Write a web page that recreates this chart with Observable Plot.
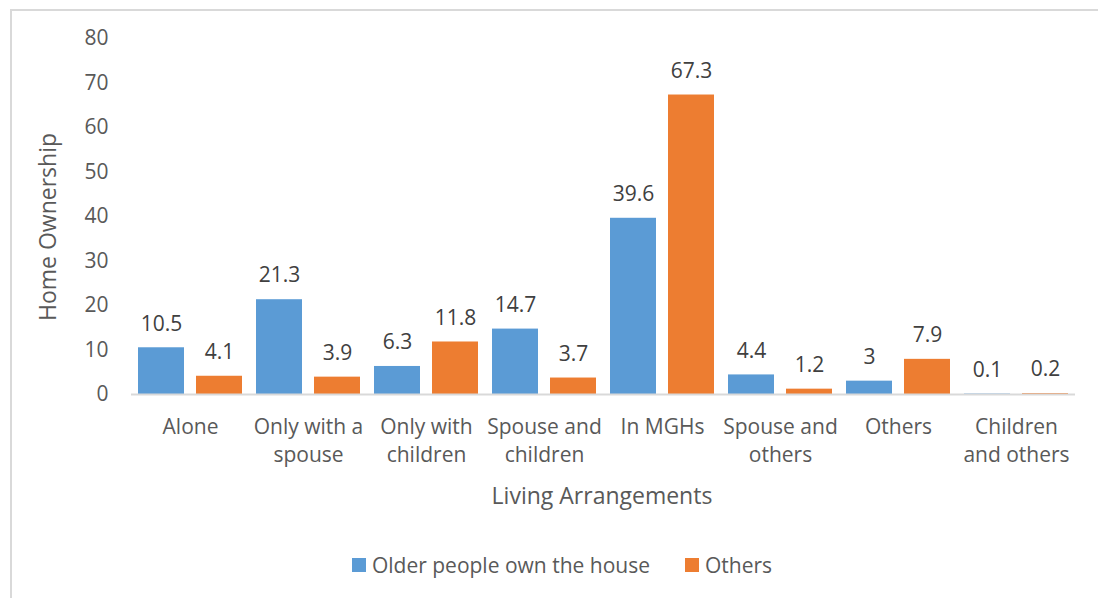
<!DOCTYPE html>
<html>
<head>
<meta charset="utf-8">
<script src="https://cdn.jsdelivr.net/npm/d3@7"></script>
<script src="https://cdn.jsdelivr.net/npm/@observablehq/plot@0.6"></script>
<style>
  html, body { margin: 0; padding: 0; background: #fff; }
  #wrap { position: relative; width: 1098px; height: 598px; overflow: hidden; font-family: "Open Sans", sans-serif; color: #595959; }
  #frame { position: absolute; left: 10px; top: 9px; width: 1200px; height: 700px; border-left: 2px solid #d9d9d9; border-top: 2px solid #d9d9d9; box-sizing: border-box; }
  #chart { position: absolute; left: 0; top: 0; }
  #ytitle { position: absolute; left: 47px; top: 227px; transform: translate(-50%, -50%) rotate(-90deg); font-size: 23px; white-space: nowrap; }
  #xtitle { position: absolute; left: 602px; top: 495px; transform: translate(-50%, -50%); font-size: 23px; white-space: nowrap; }
  #legend { position: absolute; left: 0; width: 1098px; top: 565px; transform: translateY(-50%); display: flex; justify-content: center; gap: 35px; font-size: 21px; padding-left: 26px; box-sizing: border-box; }
  .item { display: flex; align-items: center; gap: 6px; }
  .sw { width: 14px; height: 14px; display: inline-block; }
</style>
</head>
<body>
<div id="wrap">
  <div id="frame"></div>
  <div id="chart"></div>
  <div id="ytitle">Home Ownership</div>
  <div id="xtitle">Living Arrangements</div>
  <div id="legend"></div>
</div>
<script>
const categories = ["Alone", "Only with a spouse", "Only with children", "Spouse and children", "In MGHs", "Spouse and others", "Others", "Children and others"];
const categoryLabels = ["Alone", "Only with a\nspouse", "Only with\nchildren", "Spouse and\nchildren", "In MGHs", "Spouse and\nothers", "Others", "Children\nand others"];
const seriesNames = ["Older people own the house", "Others"];
const ownValues = [10.5, 21.3, 6.3, 14.7, 39.6, 4.4, 3, 0.1];
const otherValues = [4.1, 3.9, 11.8, 3.7, 67.3, 1.2, 7.9, 0.2];
const colors = ["#5B9BD5", "#ED7D31"];
const yTicks = [0, 10, 20, 30, 40, 50, 60, 70, 80];

const data = [];
categories.forEach((c, i) => {
  data.push({category: c, series: seriesNames[0], value: ownValues[i]});
  data.push({category: c, series: seriesNames[1], value: otherValues[i]});
});
const labelOf = new Map(categories.map((c, i) => [c, categoryLabels[i]]));

const chart = Plot.plot({
  width: 1098,
  height: 520,
  marginLeft: 131,
  marginRight: 23,
  marginTop: 38,
  marginBottom: 126,
  style: {fontFamily: "'Open Sans', sans-serif", fontSize: "21px", color: "#595959", background: "transparent"},
  fx: {domain: categories, padding: 0, label: null, axis: null},
  x: {domain: seriesNames, paddingInner: 12 / 58, paddingOuter: 7 / 58, axis: null},
  y: {domain: [0, 80], axis: null},
  color: {domain: seriesNames, range: colors},
  marks: [
    Plot.axisY({ticks: yTicks, tickSize: 0, tickPadding: 23, label: null, fontSize: 21, fill: "#595959"}),
    Plot.axisFx({anchor: "bottom", tickSize: 0, tickPadding: 20, label: null, fontSize: 21, fill: "#595959",
                 lineHeight: 1.33, tickFormat: d => labelOf.get(d)}),
    Plot.barY(data, {fx: "category", x: "series", y: "value", fill: "series"}),
    Plot.ruleY([0], {stroke: "#d9d9d9", strokeWidth: 2}),
    Plot.text(data, {fx: "category", x: "series", y: "value", text: d => String(d.value), dy: -24,
                     lineAnchor: "middle", fontSize: 21, fill: "#404040"})
  ]
});
document.getElementById("chart").appendChild(chart);

const legend = document.getElementById("legend");
seriesNames.forEach((s, i) => {
  const it = document.createElement("div");
  it.className = "item";
  const sw = document.createElement("span");
  sw.className = "sw";
  sw.style.background = colors[i];
  const t = document.createElement("span");
  t.textContent = s;
  it.appendChild(sw);
  it.appendChild(t);
  legend.appendChild(it);
});
</script>
</body>
</html>
